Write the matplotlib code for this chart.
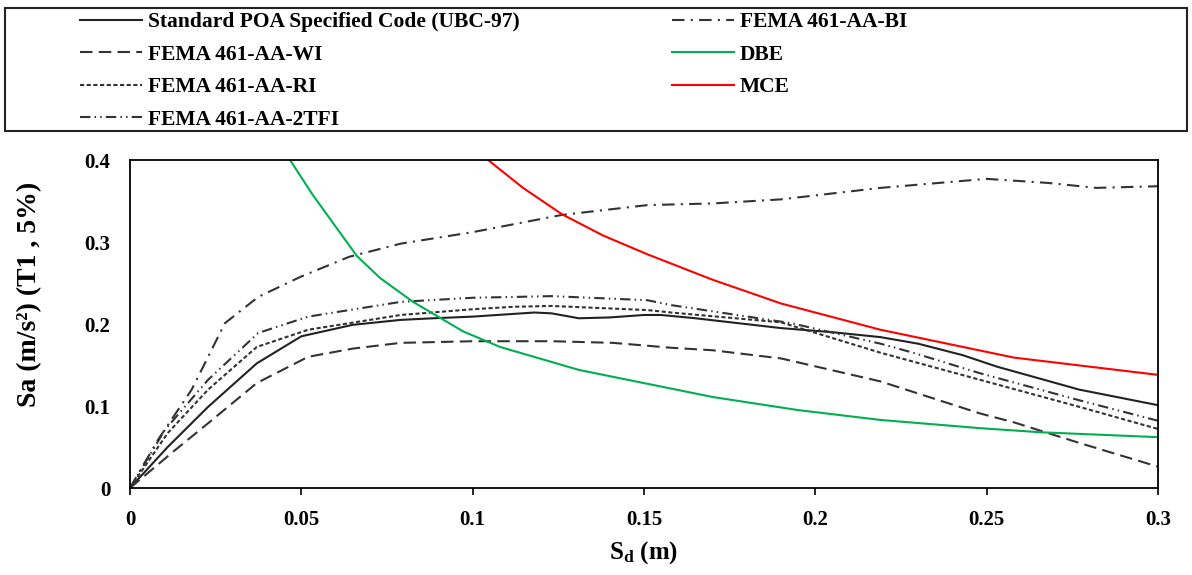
import numpy as np
import matplotlib
matplotlib.use("Agg")
import matplotlib.pyplot as plt
from matplotlib.patches import Rectangle

plt.rcParams["font.family"] = ["Liberation Serif", "DejaVu Serif"]
plt.rcParams["font.weight"] = "bold"
plt.rcParams["mathtext.default"] = "regular"

# ---- data ----
ubc_x = [0, 0.011, 0.0228, 0.037, 0.05, 0.065, 0.079, 0.0885, 0.1, 0.118, 0.123,
         0.131, 0.14, 0.15, 0.155, 0.165, 0.19, 0.205, 0.219, 0.23, 0.243, 0.253,
         0.277, 0.3]
ubc_y = [0, 0.05, 0.099, 0.152, 0.185, 0.199, 0.205, 0.207, 0.209, 0.214, 0.213,
         0.207, 0.208, 0.211, 0.211, 0.207, 0.195, 0.190, 0.184, 0.176, 0.162, 0.148,
         0.120, 0.101]

wi_x = [0, 0.0131, 0.0228, 0.037, 0.052, 0.065, 0.079, 0.1, 0.123, 0.141, 0.158,
        0.170, 0.19, 0.219, 0.248, 0.258, 0.277, 0.3]
wi_y = [0, 0.046, 0.079, 0.128, 0.160, 0.170, 0.177, 0.179, 0.179, 0.177, 0.171,
        0.168, 0.158, 0.130, 0.091, 0.080, 0.055, 0.026]

ri_x = [0, 0.011, 0.0228, 0.037, 0.052, 0.079, 0.1, 0.112, 0.123, 0.151, 0.158,
        0.19, 0.219, 0.248, 0.277, 0.3]
ri_y = [0, 0.067, 0.12, 0.172, 0.193, 0.211, 0.218, 0.221, 0.222, 0.217, 0.214,
        0.202, 0.165, 0.132, 0.099, 0.072]

tfi_x = [0, 0.0102, 0.0228, 0.0374, 0.052, 0.079, 0.1, 0.112, 0.123, 0.151, 0.158,
         0.193, 0.219, 0.2285, 0.248, 0.277, 0.3]
tfi_y = [0, 0.071, 0.132, 0.189, 0.209, 0.227, 0.232, 0.233, 0.234, 0.229, 0.223,
         0.201, 0.176, 0.165, 0.140, 0.107, 0.082]

bi_x = [0, 0.0082, 0.018, 0.0277, 0.0374, 0.05, 0.064, 0.079, 0.1, 0.126, 0.151,
        0.17, 0.19, 0.219, 0.25, 0.268, 0.282, 0.3]
bi_y = [0, 0.059, 0.12, 0.201, 0.233, 0.258, 0.282, 0.298, 0.312, 0.333, 0.345,
        0.347, 0.352, 0.366, 0.377, 0.372, 0.366, 0.368]

dbe_x = [0.0467, 0.0534, 0.0662, 0.073, 0.0826, 0.0972, 0.108, 0.131, 0.170, 0.195,
         0.219, 0.248, 0.2656, 0.3]
dbe_y = [0.4, 0.357, 0.283, 0.256, 0.227, 0.191, 0.172, 0.144, 0.111, 0.095,
         0.083, 0.073, 0.068, 0.062]

mce_x = [0.1045, 0.1147, 0.126, 0.138, 0.151, 0.17, 0.19, 0.219, 0.258, 0.3]
mce_y = [0.4, 0.366, 0.334, 0.308, 0.285, 0.254, 0.225, 0.193, 0.159, 0.138]

labels = ["Standard POA Specified Code (UBC-97)", "FEMA 461-AA-WI", "FEMA 461-AA-RI",
          "FEMA 461-AA-2TFI", "FEMA 461-AA-BI", "DBE", "MCE"]

x_ticks = [0, 0.05, 0.1, 0.15, 0.2, 0.25, 0.3]
x_tick_labels = ["0", "0.05", "0.1", "0.15", "0.2", "0.25", "0.3"]
y_ticks = [0, 0.1, 0.2, 0.3, 0.4]
y_tick_labels = ["0", "0.1", "0.2", "0.3", "0.4"]

# ---- figure ----
fig = plt.figure(figsize=(11.92, 5.75), dpi=100)
ax = fig.add_axes([130 / 1192, 87 / 575, 1028 / 1192, 328 / 575])

lw = 1.5
h1, = ax.plot(ubc_x, ubc_y, color="#222222", lw=lw, ls="-")
h2, = ax.plot(wi_x, wi_y, color="#333333", lw=lw, ls=(0, (6, 3)))
h3, = ax.plot(ri_x, ri_y, color="#333333", lw=lw, ls=(0, (2, 1.2)))
h4, = ax.plot(tfi_x, tfi_y, color="#333333", lw=lw, ls=(0, (5, 2, 0.7, 2, 0.7, 2)))
h5, = ax.plot(bi_x, bi_y, color="#333333", lw=lw, ls=(0, (6, 3, 1, 3)))
h6, = ax.plot(dbe_x, dbe_y, color="#00b050", lw=lw)
h7, = ax.plot(mce_x, mce_y, color="#ff0000", lw=lw)

ax.set_xlim(0, 0.3)
ax.set_ylim(0, 0.4)
ax.set_xticks(x_ticks)
ax.set_xticklabels(x_tick_labels)
ax.set_yticks(y_ticks)
ax.set_yticklabels(y_tick_labels)
ax.tick_params(axis="x", direction="out", length=5, width=1.2, pad=11, labelsize=15)
ax.tick_params(axis="y", length=0, pad=14, labelsize=15)
for s in ax.spines.values():
    s.set_linewidth(1.3)

ax.set_xlabel("S$_{d}$ (m)", fontsize=18, fontweight="bold")
ax.xaxis.set_label_coords(0.5, -0.155)
ax.set_ylabel("Sa (m/s²) (T1 , 5%)", fontsize=20, fontweight="bold")
ax.yaxis.set_label_coords(-0.085, 0.59)

# legend box
fig.patches.append(Rectangle((5 / 1192, 444 / 575), 1182 / 1192, 123 / 575,
                             transform=fig.transFigure, fill=False,
                             edgecolor="#222222", lw=1.5))
leg_kw = dict(frameon=False, loc="upper left", fontsize=15.5, handlelength=2.9,
              handletextpad=0.25, labelspacing=0.58, borderpad=0, borderaxespad=0)
fig.legend([h1, h2, h3, h4], labels[:4],
           bbox_to_anchor=(80 / 1192, 1 - 12 / 575), **leg_kw)
fig.legend([h5, h6, h7], labels[4:],
           bbox_to_anchor=(672 / 1192, 1 - 12 / 575), **leg_kw)

fig.savefig("out.png", dpi=100)
